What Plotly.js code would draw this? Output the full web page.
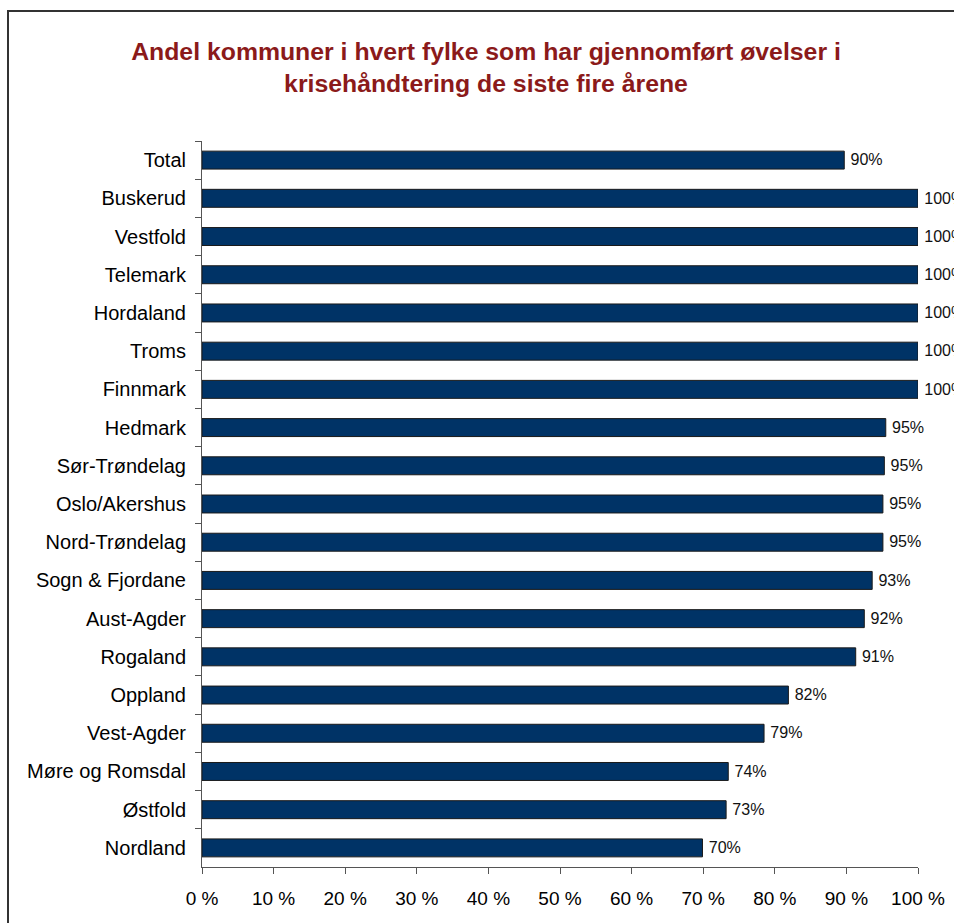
<!DOCTYPE html>
<html>
<head>
<meta charset="utf-8">
<script src="https://cdn.plot.ly/plotly-3.0.1.min.js"></script>
<style>
html,body{margin:0;padding:0;background:#fff;overflow:hidden;}
#wrap{position:relative;width:954px;height:923px;overflow:hidden;}
#chart{width:954px;height:923px;}
#frame{position:absolute;left:7px;top:10px;width:1000px;height:1000px;border-left:2px solid #333;border-top:2px solid #333;pointer-events:none;box-sizing:border-box;z-index:10;}
</style>
</head>
<body>
<div id="wrap">
<div id="chart"></div>
<div id="frame"></div>
</div>
<script>
const categories = ["Total","Buskerud","Vestfold","Telemark","Hordaland","Troms","Finnmark","Hedmark","Sør-Trøndelag","Oslo/Akershus","Nord-Trøndelag","Sogn & Fjordane","Aust-Agder","Rogaland","Oppland","Vest-Agder","Møre og Romsdal","Østfold","Nordland"];
const values = [0.897,1.0,1.0,1.0,1.0,1.0,1.0,0.955,0.953,0.951,0.951,0.936,0.925,0.913,0.819,0.785,0.735,0.732,0.699];
const valueLabels = ["90%","100%","100%","100%","100%","100%","100%","95%","95%","95%","95%","93%","92%","91%","82%","79%","74%","73%","70%"];
const xTickVals = [0,0.1,0.2,0.3,0.4,0.5,0.6,0.7,0.8,0.9,1.0];
const xTickText = ["0 %","10 %","20 %","30 %","40 %","50 %","60 %","70 %","80 %","90 %","100 %"];
const titleText = "Andel kommuner i hvert fylke som har gjennomført øvelser i<br>krisehåndtering de siste fire årene";

const FONT = "'Liberation Sans', Arial, sans-serif";

const trace = {
  type: "bar",
  orientation: "h",
  x: values,
  y: categories,
  width: 0.47,
  marker: {color: "#003366", line: {color: "#1a1a1a", width: 1}},
  text: valueLabels,
  texttemplate: "\u2009%{text}",
  textposition: "outside",
  textfont: {family: FONT, size: 17, color: "#111"},
  cliponaxis: false,
  hoverinfo: "skip"
};

const layout = {
  width: 954,
  height: 923,
  margin: {l: 202, r: 36, t: 141, b: 56},
  paper_bgcolor: "#fff",
  plot_bgcolor: "#fff",
  showlegend: false,
  font: {family: FONT, color: "#000"},
  title: {
    text: titleText,
    font: {family: FONT, size: 24.8, color: "#8B1A1A", weight: "bold"},
    x: 486/954, xanchor: "center",
    xref: "container", yref: "container",
    y: 1 - 60/923, yanchor: "top"
  },
  xaxis: {
    range: [0, 1],
    tickvals: xTickVals,
    ticktext: xTickText,
    ticks: "outside",
    ticklen: 6,
    tickcolor: "#555",
    showline: true,
    linecolor: "#555",
    linewidth: 1,
    showgrid: false,
    zeroline: false,
    ticklabelstandoff: 8,
    tickfont: {family: FONT, size: 19, color: "#000"},
    fixedrange: true
  },
  yaxis: {
    type: "category",
    autorange: "reversed",
    tickson: "boundaries",
    ticks: "outside",
    ticklen: 6,
    tickcolor: "#555",
    showline: true,
    linecolor: "#555",
    linewidth: 1,
    showgrid: false,
    zeroline: false,
    ticklabelstandoff: 11,
    tickfont: {family: FONT, size: 20, color: "#000"},
    fixedrange: true
  }
};

Plotly.newPlot("chart", [trace], layout, {displayModeBar: false, staticPlot: true});
</script>
</body>
</html>
